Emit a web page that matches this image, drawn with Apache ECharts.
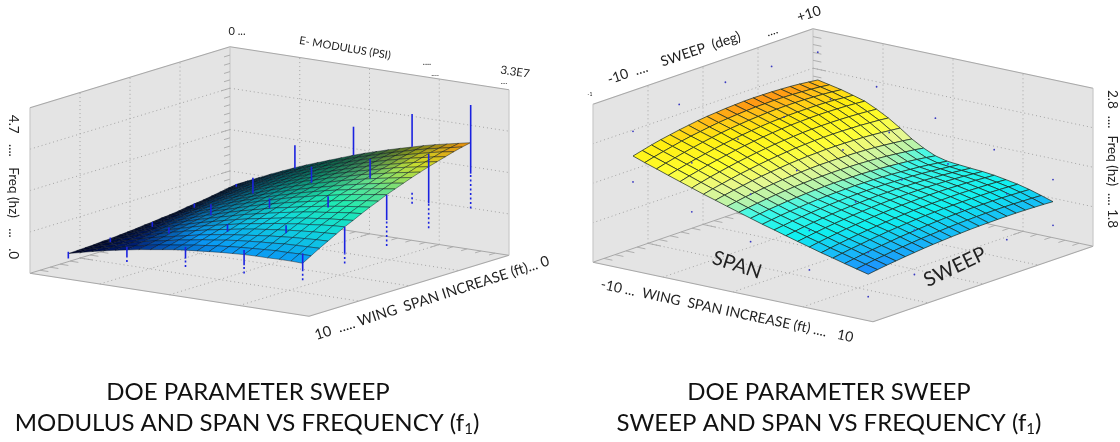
<!DOCTYPE html>
<html><head><meta charset="utf-8">
<style>html,body{margin:0;padding:0;background:#fff}#c{width:1120px;height:442px}</style>
<script src="https://cdn.jsdelivr.net/npm/echarts@6/dist/echarts.min.js"></script>
</head><body><div id="c"></div>
<script>
// Frequency (Hz): rows = span, 0 ft side to 10 ft side; columns = modulus, low to high
const modulusFreq = [
[1.03,1.18,1.33,1.48,1.62,1.76,1.89,2.01,2.13,2.25,2.37,2.48,2.58,2.68,2.77,2.86,2.95,3.03,3.10,3.17,3.24],
[.99,1.14,1.29,1.44,1.58,1.71,1.84,1.97,2.09,2.21,2.32,2.43,2.53,2.63,2.72,2.81,2.90,2.98,3.05,3.12,3.19],
[.95,1.10,1.25,1.39,1.53,1.67,1.80,1.92,2.04,2.16,2.27,2.37,2.48,2.58,2.67,2.76,2.84,2.92,3.00,3.07,3.13],
[.91,1.06,1.21,1.35,1.49,1.62,1.75,1.87,1.99,2.11,2.22,2.32,2.42,2.52,2.61,2.70,2.78,2.86,2.93,3.00,3.06],
[.87,1.02,1.17,1.30,1.44,1.57,1.70,1.82,1.94,2.06,2.16,2.26,2.36,2.46,2.55,2.63,2.71,2.79,2.86,2.93,2.99],
[.84,.99,1.13,1.27,1.40,1.53,1.66,1.78,1.89,2.00,2.11,2.21,2.31,2.40,2.49,2.57,2.65,2.73,2.80,2.86,2.92],
[.81,.95,1.10,1.22,1.36,1.49,1.62,1.73,1.84,1.95,2.06,2.15,2.25,2.34,2.42,2.51,2.58,2.65,2.72,2.78,2.84],
[.77,.91,1.05,1.19,1.32,1.44,1.56,1.67,1.79,1.89,2.00,2.09,2.19,2.27,2.36,2.44,2.51,2.58,2.64,2.70,2.76],
[.74,.88,1.02,1.15,1.27,1.40,1.51,1.62,1.73,1.84,1.94,2.03,2.12,2.20,2.28,2.36,2.43,2.50,2.56,2.62,2.67],
[.72,.86,.99,1.12,1.24,1.36,1.47,1.58,1.68,1.78,1.88,1.97,2.06,2.14,2.22,2.29,2.35,2.42,2.48,2.53,2.58],
[.69,.82,.95,1.08,1.20,1.31,1.42,1.53,1.63,1.73,1.82,1.91,2.00,2.07,2.15,2.21,2.28,2.34,2.39,2.44,2.49],
[.67,.80,.92,1.04,1.16,1.27,1.38,1.47,1.57,1.67,1.76,1.84,1.92,1.99,2.06,2.12,2.18,2.24,2.29,2.34,2.38],
[.64,.77,.89,1.00,1.11,1.22,1.33,1.42,1.52,1.61,1.69,1.77,1.85,1.91,1.98,2.04,2.10,2.15,2.20,2.24,2.28],
[.62,.74,.86,.97,1.08,1.18,1.28,1.37,1.46,1.54,1.63,1.70,1.77,1.84,1.90,1.96,2.01,2.05,2.10,2.14,2.17],
[.60,.72,.83,.93,1.04,1.14,1.23,1.32,1.40,1.48,1.56,1.63,1.69,1.75,1.81,1.86,1.91,1.95,1.99,2.02,2.05],
[.58,.69,.80,.90,1.00,1.09,1.18,1.27,1.35,1.42,1.49,1.56,1.62,1.67,1.73,1.77,1.82,1.85,1.89,1.92,1.94],
[.57,.68,.78,.87,.96,1.05,1.14,1.22,1.29,1.36,1.42,1.48,1.54,1.59,1.63,1.67,1.71,1.74,1.77,1.79,1.81],
[.55,.65,.75,.84,.92,1.01,1.08,1.15,1.22,1.29,1.35,1.40,1.45,1.49,1.53,1.57,1.60,1.63,1.65,1.67,1.68],
[.54,.63,.72,.81,.89,.97,1.04,1.10,1.17,1.22,1.28,1.32,1.37,1.41,1.44,1.47,1.49,1.52,1.53,1.54,1.55],
[.53,.62,.70,.78,.85,.92,.99,1.05,1.10,1.15,1.20,1.24,1.28,1.31,1.34,1.36,1.38,1.40,1.40,1.41,1.41],
[.52,.60,.68,.75,.82,.88,.94,.99,1.04,1.09,1.13,1.16,1.19,1.22,1.24,1.26,1.27,1.27,1.28,1.28,1.27]
];
// Frequency (Hz): rows = sweep, +10 side to -10 side; columns = span, -10 to 10
const sweepFreq = [
[2.544,2.529,2.514,2.494,2.473,2.438,2.398,2.350,2.297,2.255,2.222,2.204,2.197,2.191,2.186,2.178,2.166,2.153,2.135,2.113,2.090],
[2.551,2.536,2.520,2.499,2.478,2.443,2.404,2.356,2.305,2.264,2.231,2.212,2.204,2.197,2.191,2.182,2.170,2.156,2.138,2.116,2.093],
[2.558,2.541,2.525,2.504,2.482,2.447,2.408,2.362,2.312,2.271,2.239,2.220,2.211,2.203,2.196,2.186,2.173,2.159,2.140,2.118,2.095],
[2.563,2.545,2.528,2.507,2.484,2.450,2.412,2.367,2.318,2.278,2.246,2.227,2.217,2.208,2.200,2.189,2.175,2.161,2.142,2.120,2.097],
[2.566,2.548,2.531,2.509,2.486,2.452,2.414,2.371,2.323,2.284,2.252,2.232,2.222,2.212,2.203,2.191,2.177,2.162,2.143,2.121,2.098],
[2.569,2.550,2.532,2.509,2.487,2.453,2.416,2.373,2.327,2.289,2.257,2.237,2.226,2.215,2.205,2.193,2.178,2.162,2.143,2.121,2.098],
[2.570,2.551,2.532,2.509,2.486,2.453,2.417,2.375,2.330,2.293,2.262,2.241,2.229,2.217,2.207,2.194,2.178,2.162,2.143,2.121,2.098],
[2.571,2.550,2.531,2.508,2.484,2.452,2.416,2.376,2.332,2.296,2.265,2.244,2.231,2.219,2.207,2.194,2.177,2.161,2.142,2.120,2.097],
[2.570,2.549,2.529,2.505,2.482,2.450,2.415,2.376,2.333,2.298,2.268,2.247,2.233,2.220,2.207,2.193,2.176,2.160,2.140,2.118,2.096],
[2.567,2.546,2.525,2.502,2.478,2.446,2.412,2.374,2.333,2.299,2.269,2.248,2.234,2.219,2.206,2.191,2.174,2.157,2.138,2.116,2.094],
[2.564,2.542,2.521,2.497,2.473,2.442,2.409,2.372,2.333,2.299,2.270,2.249,2.234,2.219,2.205,2.189,2.172,2.155,2.135,2.113,2.091],
[2.559,2.537,2.515,2.491,2.467,2.437,2.404,2.369,2.331,2.298,2.270,2.248,2.233,2.217,2.202,2.186,2.168,2.151,2.131,2.109,2.088],
[2.554,2.531,2.509,2.484,2.460,2.430,2.398,2.365,2.328,2.297,2.269,2.247,2.231,2.214,2.199,2.182,2.164,2.146,2.126,2.105,2.084],
[2.547,2.523,2.501,2.476,2.452,2.423,2.392,2.359,2.324,2.294,2.267,2.245,2.228,2.211,2.195,2.178,2.159,2.141,2.121,2.101,2.080],
[2.538,2.514,2.492,2.467,2.443,2.414,2.384,2.353,2.320,2.291,2.264,2.242,2.225,2.207,2.190,2.172,2.153,2.136,2.116,2.095,2.075],
[2.529,2.505,2.482,2.457,2.432,2.405,2.375,2.346,2.314,2.286,2.260,2.238,2.220,2.202,2.184,2.166,2.147,2.129,2.109,2.089,2.069],
[2.518,2.494,2.470,2.445,2.421,2.394,2.366,2.338,2.308,2.281,2.256,2.233,2.215,2.196,2.178,2.160,2.140,2.122,2.102,2.083,2.063],
[2.507,2.481,2.458,2.433,2.409,2.382,2.355,2.328,2.300,2.274,2.250,2.228,2.209,2.190,2.171,2.152,2.132,2.114,2.095,2.075,2.056],
[2.494,2.468,2.444,2.419,2.395,2.370,2.343,2.318,2.292,2.267,2.244,2.222,2.202,2.182,2.163,2.144,2.124,2.106,2.087,2.068,2.049],
[2.479,2.454,2.430,2.405,2.381,2.356,2.331,2.307,2.282,2.259,2.236,2.214,2.194,2.174,2.154,2.135,2.115,2.097,2.078,2.059,2.041],
[2.464,2.438,2.414,2.389,2.365,2.341,2.317,2.295,2.272,2.250,2.228,2.206,2.186,2.165,2.145,2.125,2.105,2.087,2.068,2.050,2.032]
];
// Blue sample columns on the left surface, solid part: [modulus step, span step, low Hz, high Hz]
const modulusSamples = [
[0,0,.96,1.04],[1,0,1.74,2.40],[2,0,2.37,3.18],[3,0,2.87,3.80],[4,0,2.36,4.31],
[0,1,.73,.85],[1,1,1.39,1.84],[2,1,1.95,2.41],[3,1,2.33,2.88],[4,1,1.88,3.28],
[0,2,.55,.69],[1,2,1.14,1.45],[2,2,1.59,1.87],[3,2,1.87,2.19],[4,2,1.77,2.48],
[0,3,.48,.61],[1,3,.98,1.15],[2,3,1.29,1.50],[3,3,1.50,1.73],[4,3,1.18,1.94],
[0,4,.38,.57],[1,4,.68,.97],[2,4,.89,1.22],[3,4,.96,1.39],[4,4,1.05,1.55]
];
// Dotted lower parts of the same columns: [modulus step, span step, low Hz, high Hz]
const modulusSampleTails = [
[4,0,1.37,2.36],[3,0,1.25,1.63],[4,1,1.17,1.88],[4,2,1.03,1.77],[4,3,.90,1.18],
[4,4,.79,1.05],[3,4,.72,.96],[2,4,.65,.89],[1,4,.54,.68]
];
// Blue sample dots on the right surface: [span step, sweep step, Hz]
const sweepSamples = [
[0,0,2.72],[1,0,2.58],[2,0,2.46],[3,0,2.34],[4,0,2.23],[4,0,1.94],
[0,1,2.73],[1,1,2.60],[2,1,2.47],[3,1,2.35],[4,1,2.24],[4,1,1.95],
[0,2,2.73],[1,2,2.59],[2,2,2.46],[3,2,2.35],[4,2,2.24],
[0,3,2.69],[1,3,2.55],[2,3,2.43],[3,3,2.31],[4,3,2.21],[4,3,1.93],
[0,4,2.62],[0,4,2.30],[1,4,2.50],[1,4,2.19],[2,4,2.38],[2,4,2.08],[3,4,2.23],[3,4,1.98],[4,4,2.17],[4,4,1.89]
];
const titleLines = ['DOE PARAMETER SWEEP','MODULUS AND SPAN VS FREQUENCY ','SWEEP AND SPAN VS FREQUENCY '];
const freqRanges = [[0,4.7],[1.8,2.8]];

const panels = [
 {o:[230,212.3],e1:[279,43],e2:[-200,61],h:165.5,zr:freqRanges[0],tickDir:'e2'},
 {o:[813,186.7],e1:[280,59.5],e2:[-220,75.5],h:158,zr:freqRanges[1],tickDir:'e1'}
];
const inset=.08, span=.84;
function pt(p,a,b,w){return [p.o[0]+a*p.e1[0]+b*p.e2[0], p.o[1]+a*p.e1[1]+b*p.e2[1]-w*p.h];}
function hex(c){return [parseInt(c.slice(1,3),16),parseInt(c.slice(3,5),16),parseInt(c.slice(5,7),16)];}
function ramp(stops,z){
  if(z<=stops[0][0])return hex(stops[0][1]);
  for(let i=1;i<stops.length;i++){ if(z<=stops[i][0]){
    const f=(z-stops[i-1][0])/(stops[i][0]-stops[i-1][0]),A=hex(stops[i-1][1]),B=hex(stops[i][1]);
    return A.map((v,k)=>v+(B[k]-v)*f);}}
  return hex(stops[stops.length-1][1]);
}
const leftRamp=[[.5,'#00002a'],[.9,'#002080'],[1.27,'#0a98f5'],[1.8,'#10d8dc'],[2.2,'#20eab0'],[2.49,'#60e090'],[2.9,'#d0dc28'],[3.24,'#e88408']];
const rightRamp=[[2.03,'#1e88ff'],[2.09,'#18b4f8'],[2.16,'#10f0f0'],[2.24,'#40f8e8'],[2.27,'#b0f4b0'],[2.33,'#e8f890'],[2.4,'#ffff30'],[2.49,'#ffee10'],[2.53,'#ffc818'],[2.56,'#ff9a14'],[2.58,'#f07a10']];
function cellColor(pi,row,col,z){
  let c;
  if(pi===0){
    const t=row/19,s=col/19;
    const br=Math.min(1,.25+.5*t+.3*s+.4*t*s+.5*Math.pow(s,6));
    c=ramp(leftRamp,z).map(v=>v*br);
  } else c=ramp(rightRamp,z);
  return 'rgb('+c.map(v=>Math.round(v)).join(',')+')';
}
function boxChildren(pi,api){
  const p=panels[pi],kids=[];
  const C=(a,b,w)=>api.coord(pt(p,a,b,w));
  const poly=(pts,fill)=>kids.push({type:'polygon',shape:{points:pts},style:{fill:fill,stroke:'#e4e4e4',lineWidth:.5}});
  const line=(A,B,stroke,lw,dash)=>kids.push({type:'line',shape:{x1:A[0],y1:A[1],x2:B[0],y2:B[1]},style:{stroke:stroke,lineWidth:lw,lineDash:dash||null}});
  poly([C(0,0,0),C(0,1,0),C(0,1,1),C(0,0,1)],'#e4e4e4');
  poly([C(0,0,0),C(1,0,0),C(1,0,1),C(0,0,1)],'#e4e4e4');
  poly([C(0,0,0),C(1,0,0),C(1,1,0),C(0,1,0)],'#e4e4e4');
  const dot=[1,3],gc='#a4a4a4';
  for(let i=1;i<4;i++){const f=i/4;
    line(C(f,0,0),C(f,0,1),gc,1,dot); line(C(0,f,0),C(0,f,1),gc,1,dot);
    line(C(0,0,f),C(1,0,f),gc,1,dot); line(C(0,0,f),C(0,1,f),gc,1,dot);
    line(C(f,0,0),C(f,1,0),gc,1,dot); line(C(0,f,0),C(1,f,0),gc,1,dot);
  }
  const ec='#a8a8a8';
  line(C(0,0,1),C(1,0,1),ec,1.1); line(C(0,0,1),C(0,1,1),ec,1.1);
  line(C(0,1,0),C(1,1,0),ec,1.1); line(C(1,1,0),C(1,0,0),ec,1.1);
  line(C(0,0,0),C(1,0,0),ec,1); line(C(0,0,0),C(0,1,0),ec,1);
  line(C(0,1,0),C(0,1,1),'#c4c4c4',1); line(C(1,0,0),C(1,0,1),'#c4c4c4',1); line(C(0,0,0),C(0,0,1),'#c4c4c4',1);
  for(let i=1;i<20;i++){const f=i/20;
    const L=i%5===0?.045:.03;
    if(p.tickDir==='e2') line(C(0,0,f),C(0,L,f),ec,.9); else line(C(0,0,f),C(L,0,f),ec,.9);
    line(C(f,0,0),C(f,L,0),ec,.9); line(C(0,f,0),C(L,f,0),ec,.9);
  }
  return kids;
}
const tables=[modulusFreq,sweepFreq];
const cells=[];
tables.forEach((T,pi)=>{for(let r=0;r<T.length-1;r++)for(let c=0;c<T[r].length-1;c++)cells.push([pi,r,c]);});
function surfPt(pi,api,r,c){
  const p=panels[pi],z=tables[pi][r][c];
  const w=(z-p.zr[0])/(p.zr[1]-p.zr[0]);
  return api.coord(pt(p,inset+span*c/20,inset+span*r/20,w));
}
const strokes=['rgba(5,15,25,.72)','rgba(25,40,30,.8)'];
const lws=[.6,.9];
function sampleLine(list,dash){
  return (params,api)=>{
    const s=list[params.dataIndex],p=panels[0];
    const a=inset+span*s[0]/4,b=inset+span*s[1]/4;
    const A=api.coord(pt(p,a,b,s[2]/4.7)),B=api.coord(pt(p,a,b,s[3]/4.7));
    return {type:'line',shape:{x1:A[0],y1:A[1],x2:B[0],y2:B[1]},style:{stroke:'#1a22e0',lineWidth:1.6,lineDash:dash}};
  };
}
const bigLine={fontFamily:'Lato',fontSize:24,fontWeight:'normal',color:'#111'};
const subText={fontFamily:'Lato',fontSize:15,fontWeight:'normal',color:'#111',verticalAlign:'bottom',padding:[12,0,0,0]};
const option={
  animation:false,
  backgroundColor:'#fff',
  grid:{left:0,right:0,top:0,bottom:0},
  xAxis:{type:'value',min:0,max:1120,show:false},
  yAxis:{type:'value',min:0,max:442,inverse:true,show:false},
  title:[
    {text:titleLines[0],left:243,top:375,textAlign:'center',textStyle:bigLine},
    {text:titleLines[0],left:824,top:375,textAlign:'center',textStyle:bigLine},
    {text:'{a|'+titleLines[1]+'(f}{s|1}{a|)}',left:242,top:405,textAlign:'center',textStyle:{fontWeight:'normal',rich:{a:bigLine,s:subText}}},
    {text:'{a|'+titleLines[2]+'(f}{s|1}{a|)}',left:824,top:405,textAlign:'center',textStyle:{fontWeight:'normal',rich:{a:bigLine,s:subText}}}
  ],
  series:[
   {type:'custom',coordinateSystem:'cartesian2d',silent:true,clip:false,z:1,data:[[0,0],[1,0]],
    renderItem:(params,api)=>({type:'group',children:boxChildren(params.dataIndex,api)})},
   {type:'custom',coordinateSystem:'cartesian2d',silent:true,clip:false,z:2,data:cells,
    renderItem:(params,api)=>{
      const [pi,r,c]=cells[params.dataIndex];const T=tables[pi];
      const z=(T[r][c]+T[r+1][c]+T[r][c+1]+T[r+1][c+1])/4;
      return {type:'polygon',shape:{points:[surfPt(pi,api,r,c),surfPt(pi,api,r,c+1),surfPt(pi,api,r+1,c+1),surfPt(pi,api,r+1,c)]},
        style:{fill:cellColor(pi,r,c,z),stroke:strokes[pi],lineWidth:lws[pi]}};
    }},
   {type:'custom',coordinateSystem:'cartesian2d',silent:true,clip:false,z:3,data:modulusSamples,renderItem:sampleLine(modulusSamples,null)},
   {type:'custom',coordinateSystem:'cartesian2d',silent:true,clip:false,z:3,data:modulusSampleTails,renderItem:sampleLine(modulusSampleTails,[2,2.5])},
   {type:'custom',coordinateSystem:'cartesian2d',silent:true,clip:false,z:3,data:sweepSamples,
    renderItem:(params,api)=>{
      const s=sweepSamples[params.dataIndex],p=panels[1];
      const P=api.coord(pt(p,inset+span*s[0]/4,inset+span*s[1]/4,(s[2]-1.8)/1));
      return {type:'circle',shape:{cx:P[0],cy:P[1],r:.9},style:{fill:'#3a3ac0'}};
    }}
  ],
  graphic:{elements:[
    ['0 ...',237,31,0,11],['E- MODULUS (PSI)',345,48,-9.5,11],['....',427,62,0,9],['....',435,73,0,8],
    ['3.3E7',515,72,-8,11.5],['....',504,82,0,7],
    ['4.7   ....   Freq (hz)   ...   .0',13,187,-90,13.5],
    ['10  ..... WING  SPAN INCREASE (ft)... 0',432,298,17.8,14.5],
    ['+10',809,14,18,14],['....',772,31,18,12],
    ['-10  ....    SWEEP  (deg)',674,58,18.4,14],
    ['-1',590,94,0,5],
    ['2.8  ....  Freq (hz)  .... 1.8',1112,159,-90,13.5],
    ['-10 ...  WING  SPAN INCREASE (ft) ....   10',727,311,-12,14],
    ['SPAN',737,265,-18,20],['SWEEP',955,267,25.6,20]
  ].map(t=>({type:'text',x:t[1],y:t[2],rotation:t[3]*Math.PI/180,z:10,silent:true,
      style:{text:t[0],fontFamily:'Lato',fontSize:t[4],fill:'#222',align:'center',verticalAlign:'middle'}}))}
};
const chart=echarts.init(document.getElementById('c'),null,{renderer:'canvas'});
chart.setOption(option);
</script></body></html>
